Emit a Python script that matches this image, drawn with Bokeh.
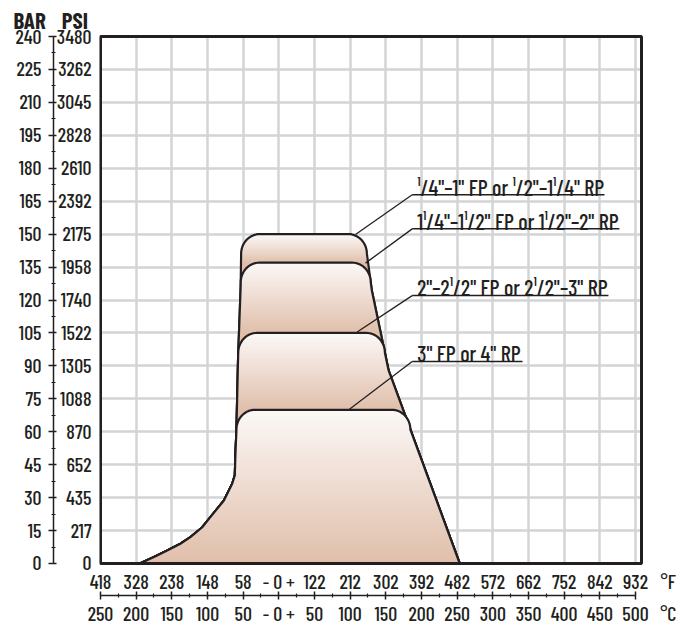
import numpy as np
from bokeh.plotting import figure
from bokeh.models import Range1d, LinearAxis, FixedTicker, Grid, Title, ColumnDataSource
from bokeh.embed import file_html
from bokeh.resources import INLINE
from bokeh.core.properties import value

FONT = "Barlow Condensed Medium"
FONT_HEAD = "Barlow Condensed"
INK = "#231f20"
GRID = "#d3d4d5"
AXIS_SIZE = "20px"
NOTE_SIZE = "22px"

# ---------------- axis data ----------------
celsius_ticks = [-250, -200, -150, -100, -50, 0, 50, 100, 150, 200, 250, 300, 350, 400, 450, 500]
celsius_labels = ["250", "200", "150", "100", "50", "- 0 +", "50", "100", "150", "200",
                  "250", "300", "350", "400", "450", "500"]
fahrenheit_labels = ["418", "328", "238", "148", "58", "- 0 +", "122", "212", "302", "392",
                     "482", "572", "662", "752", "842", "932"]
celsius_minor = [-225, -175, -125, -75, -25, 25, 75, 125, 175, 225, 275, 325, 375, 425, 475]
unit_tick = 546
unit_f = "°F"
unit_c = "°C"
bar_ticks = [0, 15, 30, 45, 60, 75, 90, 105, 120, 135, 150, 165, 180, 195, 210, 225, 240]
bar_labels = ["0", "15", "30", "45", "60", "75", "90", "105", "120", "135", "150", "165",
              "180", "195", "210", "225", "240"]
psi_labels = ["0", "217", "435", "652", "870", "1088", "1305", "1522", "1740", "1958", "2175",
              "2392", "2610", "2828", "3045", "3262", "3480"]
bar_minor = [7.5, 22.5, 37.5, 52.5, 67.5, 82.5, 97.5, 112.5, 127.5, 142.5, 157.5, 172.5,
             187.5, 202.5, 217.5, 232.5]

# ---------------- envelope data (deg C, bar) ----------------
left_temp = [-195, -175, -156.5, -138, -124, -107.7, -96, -77, -65.4, -61.7, -60.8, -59.5, -57, -53.5, -52.5]
left_bar = [0, 3, 5.9, 9, 12, 16.4, 21.1, 28.7, 36.3, 40.1, 50, 60, 95, 126, 150]
right_temp = [253.6, 153.9, 130.4, 123.4, 121.5]
right_bar = [0, 87.9, 124.3, 141.2, 150]

block_tops = [150, 137, 105, 70]
block_names = ['¹/4"–1" FP or ¹/2"–1¹/4" RP',
               '1¹/4"–1¹/2" FP or 1¹/2"–2" RP',
               '2"–2¹/2" FP or 2¹/2"–3" RP',
               '3" FP or 4" RP']
leader_from_temp = [187, 187, 187, 187]
leader_from_bar = [167.9, 152.4, 122, 92]
leader_to_temp = [107.5, 121.5, 109.8, 99]
leader_to_bar = [149.8, 136.8, 105.4, 70.2]
underline_end_temp = [456.5, 477.5, 462.1, 341.6]
text_temp = [194, 194, 194, 194]
text_lift_bar = 3.7

# chart box (the drawn frame) in data units
box_temp = (-250, 508.4)
box_bar = (0, 240)

corner_rx = 26.0
corner_ry = 9.0
top_rgb = np.array([251, 248, 246])
bottom_rgb = np.array([224, 190, 170])

p = figure(frame_width=579, frame_height=531,
           x_range=Range1d(-251.4, 560.3), y_range=Range1d(-0.911, 240.911),
           x_axis_type=None, y_axis_type=None, output_backend="svg", toolbar_location=None,
           min_border_left=99, min_border_right=5, min_border_top=34, min_border_bottom=10)
p.outline_line_color = None
p.background_fill_color = "white"
p.border_fill_color = "white"

p.add_layout(Grid(dimension=0, ticker=FixedTicker(ticks=celsius_ticks),
                  grid_line_color=GRID, grid_line_width=2.5))
p.add_layout(Grid(dimension=1, ticker=FixedTicker(ticks=bar_ticks),
                  grid_line_color=GRID, grid_line_width=2.5))

# white area outside the chart box (hides grid there)
p.quad(left=[box_temp[1]], right=[600], bottom=[-5], top=[250], fill_color="white", line_color=None)
p.quad(left=[-300], right=[600], bottom=[box_bar[1]], top=[250], fill_color="white", line_color=None)
p.quad(left=[-300], right=[600], bottom=[-5], top=[box_bar[0]], fill_color="white", line_color=None)


def chain(temps, bars, top, side):
    yc = top - corner_ry
    xs = [t for t, b in zip(temps, bars) if b < yc]
    ys = [b for b in bars if b < yc]
    x0 = float(np.interp(yc, bars, temps))
    th = np.linspace(0, np.pi / 2, 18)
    if side == "left":
        cx = x0 + corner_rx
        ax = cx - corner_rx * np.cos(th)
    else:
        cx = x0 - corner_rx
        ax = cx + corner_rx * np.cos(th)
    ay = yc + corner_ry * np.sin(th)
    return xs + list(ax), ys + list(ay)


def band(lx, ly, rx_, ry_, a, b):
    inner = sorted(set([y for y in ly + ry_ if a < y < b]))
    ys = np.array([a] + inner + [b])
    xl = np.interp(ys, ly, lx)
    xr = np.interp(ys, ry_, rx_)
    return list(xl) + list(xr[::-1]), list(ys) + list(ys[::-1])


def hexcol(rgb):
    r, g, b = [int(round(v)) for v in rgb]
    return "#%02x%02x%02x" % (r, g, b)


for i, top in enumerate(block_tops):
    lower = block_tops[i + 1] if i + 1 < len(block_tops) else 0
    lx, ly = chain(left_temp, left_bar, top, "left")
    rx_, ry_ = chain(right_temp, right_bar, top, "right")
    xs_list, ys_list, cols = [], [], []
    if lower > 0:
        bx, by = band(lx, ly, rx_, ry_, 0, lower + 0.4)
        xs_list.append(bx); ys_list.append(by); cols.append(hexcol(bottom_rgb))
    n = 40
    edges = np.linspace(lower, top, n + 1)
    for k in range(n):
        a = max(lower, edges[k] - 0.4) if k > 0 else edges[k]
        b = edges[k + 1]
        mid = 0.5 * (edges[k] + edges[k + 1])
        t = (top - mid) / (top - lower)
        col = top_rgb * (1 - t) + bottom_rgb * t
        bx, by = band(lx, ly, rx_, ry_, a, b)
        xs_list.append(bx); ys_list.append(by); cols.append(hexcol(col))
    p.patches(xs=xs_list, ys=ys_list, fill_color=cols, line_color=None)
    p.line(x=lx + rx_[::-1], y=ly + ry_[::-1], line_color=INK, line_width=2.2)

# chart box
p.quad(left=[box_temp[0]], right=[box_temp[1]], bottom=[box_bar[0]], top=[box_bar[1]],
       fill_color=None, line_color=INK, line_width=3)

# leaders and underlines
lead_src = ColumnDataSource(dict(x0=leader_from_temp, y0=leader_from_bar,
                                 x1=leader_to_temp, y1=leader_to_bar))
p.segment(x0="x0", y0="y0", x1="x1", y1="y1", source=lead_src, line_color=INK, line_width=1.3)
und_src = ColumnDataSource(dict(x0=leader_from_temp, y0=leader_from_bar,
                                x1=underline_end_temp, y1=leader_from_bar))
p.segment(x0="x0", y0="y0", x1="x1", y1="y1", source=und_src, line_color=INK, line_width=1.5)
txt_src = ColumnDataSource(dict(x=text_temp, y=[b + text_lift_bar for b in leader_from_bar],
                                text=block_names))
p.text(x="x", y="y", text="text", source=txt_src, text_font=value(FONT),
       text_font_size=value(NOTE_SIZE), text_color=INK, text_baseline="alphabetic")


def style(ax, lines=True):
    ax.major_label_text_font = FONT
    ax.major_label_text_font_size = AXIS_SIZE
    ax.major_label_text_color = INK
    ax.axis_line_width = 1.5
    ax.major_tick_line_width = 1.5
    ax.minor_tick_line_width = 1.2
    if lines:
        ax.axis_line_color = INK
        ax.major_tick_line_color = INK
        ax.minor_tick_line_color = INK
    else:
        ax.axis_line_color = None
        ax.major_tick_line_color = None
        ax.minor_tick_line_color = None
        ax.major_tick_in = 0
        ax.major_tick_out = 0
        ax.minor_tick_in = 0
        ax.minor_tick_out = 0


# ---- left: PSI labels (inner), BAR axis (outer) ----
psi_axis = LinearAxis(ticker=FixedTicker(ticks=bar_ticks, minor_ticks=[]),
                      major_label_overrides=dict(zip(bar_ticks, psi_labels)))
style(psi_axis, lines=False)
psi_axis.major_label_standoff = 8
p.add_layout(psi_axis, "left")

bar_axis = LinearAxis(ticker=FixedTicker(ticks=bar_ticks, minor_ticks=bar_minor),
                      major_label_overrides=dict(zip(bar_ticks, bar_labels)), bounds=box_bar)
style(bar_axis)
bar_axis.major_tick_in = 3
bar_axis.major_tick_out = 5
bar_axis.minor_tick_in = 2
bar_axis.minor_tick_out = 2
bar_axis.major_label_standoff = 7
p.add_layout(bar_axis, "left")

# ---- below: F labels, C axis line, C labels ----
f_ticks = celsius_ticks + [unit_tick]
f_axis = LinearAxis(ticker=FixedTicker(ticks=f_ticks, minor_ticks=[]),
                    major_label_overrides=dict(zip(f_ticks, fahrenheit_labels + [unit_f])))
style(f_axis, lines=False)
f_axis.major_label_standoff = 3
p.add_layout(f_axis, "below")

c_line = LinearAxis(ticker=FixedTicker(ticks=celsius_ticks, minor_ticks=celsius_minor),
                    major_label_overrides=dict(zip(celsius_ticks, [""] * len(celsius_ticks))),
                    bounds=(-250, 500))
style(c_line)
c_line.major_label_text_font_size = "1px"
c_line.major_label_text_color = None
c_line.major_label_standoff = 0
c_line.major_tick_in = 4
c_line.major_tick_out = 4
c_line.minor_tick_in = 2
c_line.minor_tick_out = 2
p.add_layout(c_line, "below")

c_ticks = celsius_ticks + [unit_tick]
c_axis = LinearAxis(ticker=FixedTicker(ticks=c_ticks, minor_ticks=[]),
                    major_label_overrides=dict(zip(c_ticks, celsius_labels + [unit_c])))
style(c_axis, lines=False)
c_axis.major_label_standoff = 1
p.add_layout(c_axis, "below")

# ---- header ----
header = Title(text="BAR\u2002\u2009PSI", align="left", offset=-86, standoff=2,
               text_font=FONT_HEAD, text_font_size="23px", text_color=INK, text_font_style="bold")
p.add_layout(header, "above")

open("out.html", "w").write(file_html(p, INLINE))
